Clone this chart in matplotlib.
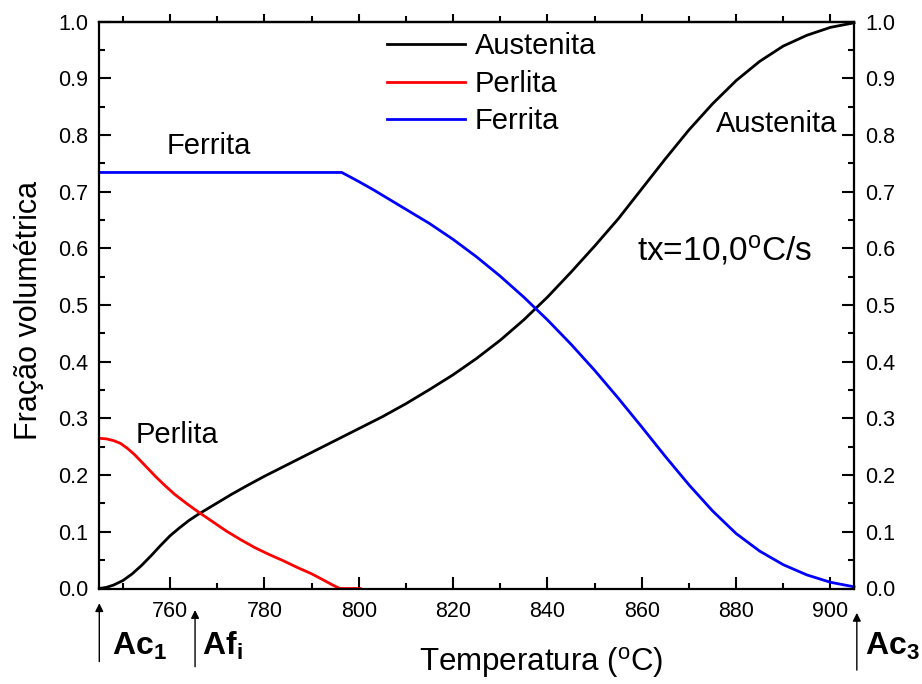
import matplotlib
matplotlib.use("Agg")
import matplotlib.pyplot as plt
import matplotlib.transforms as mtransforms
from matplotlib.ticker import MultipleLocator, FormatStrFormatter

plt.rcParams['font.family'] = ['Liberation Sans', 'DejaVu Sans']
plt.rcParams['mathtext.fontset'] = 'custom'
plt.rcParams['mathtext.rm'] = 'Liberation Sans'
plt.rcParams['mathtext.it'] = 'Liberation Sans:italic'
plt.rcParams['mathtext.bf'] = 'Liberation Sans:bold'

# Austenite volume fraction vs temperature (°C)
temp_aus = [745, 746.5, 748, 750, 752, 754, 756, 758, 760, 762, 764, 766, 768,
            770, 773, 776, 780, 785, 790, 795, 800, 805, 810, 815, 820, 825,
            830, 835, 840, 845, 850, 855, 860, 865, 870, 875, 880, 885, 890,
            895, 900, 905]
frac_aus = [0.0, 0.002, 0.006, 0.014, 0.026, 0.041, 0.058, 0.076, 0.093, 0.107,
            0.120, 0.131, 0.141, 0.151, 0.166, 0.180, 0.198, 0.219, 0.240, 0.261,
            0.282, 0.303, 0.326, 0.351, 0.377, 0.406, 0.438, 0.474, 0.514, 0.558,
            0.604, 0.652, 0.705, 0.758, 0.809, 0.855, 0.896, 0.930, 0.957, 0.976,
            0.990, 0.998]

# Pearlite volume fraction
temp_per = [745, 746.5, 748, 749.5, 751, 752.5, 754, 755.5, 757, 759, 761,
            763.5, 766, 769, 772, 775, 778, 781, 784, 787, 790, 792.5, 794.5,
            796, 800.3]
frac_per = [0.265, 0.264, 0.261, 0.256, 0.247, 0.236, 0.223, 0.210, 0.197,
            0.181, 0.166, 0.150, 0.135, 0.118, 0.101, 0.086, 0.072, 0.060,
            0.049, 0.037, 0.026, 0.015, 0.006, 0.0, 0.0]

# Ferrite volume fraction
temp_fer = [745, 796.4, 798, 800, 803, 806, 810, 815, 820, 825, 830, 835, 840,
            845, 850, 855, 860, 865, 870, 875, 880, 885, 890, 895, 900, 905]
frac_fer = [0.734, 0.734, 0.727, 0.718, 0.704, 0.689, 0.669, 0.644, 0.616,
            0.585, 0.551, 0.514, 0.474, 0.431, 0.385, 0.336, 0.285, 0.233,
            0.183, 0.137, 0.097, 0.066, 0.042, 0.024, 0.011, 0.003]

# Critical temperatures marked under the axis
crit_temps = [745, 765.3, 905.6]
crit_labels = [r'$\mathbf{Ac}_{\mathbf{1}}$', r'$\mathbf{Af}_{\mathbf{i}}$',
               r'$\mathbf{Ac}_{\mathbf{3}}$']

fig = plt.figure(figsize=(9.22, 6.84), dpi=100)
ax = fig.add_axes([99.3 / 922, 1 - 588.5 / 684, 754.7 / 922, 566.8 / 684])

ax.plot(temp_aus, frac_aus, color='black', lw=2.0, label='Austenita',
        clip_on=False, solid_joinstyle='round')
ax.plot(temp_per, frac_per, color='#ff0000', lw=2.0, label='Perlita',
        clip_on=False, solid_joinstyle='round')
ax.plot(temp_fer, frac_fer, color='#0000ff', lw=2.0, label='Ferrita',
        clip_on=False, solid_joinstyle='round')

ax.set_xlim(745, 905)
ax.set_ylim(0, 1.0)
ax.xaxis.set_major_locator(MultipleLocator(20))
ax.xaxis.set_minor_locator(MultipleLocator(10))
ax.yaxis.set_major_locator(MultipleLocator(0.1))
ax.yaxis.set_minor_locator(MultipleLocator(0.05))
ax.yaxis.set_major_formatter(FormatStrFormatter('%.1f'))

for sp in ax.spines.values():
    sp.set_linewidth(1.6)

ax.tick_params(which='both', direction='in', top=False, right=True,
               labelright=True, width=1.5, labelsize=15.5)
ax.tick_params(which='major', length=8.5)
ax.tick_params(which='minor', length=4.5)
ax.tick_params(axis='x', pad=9)
ax.tick_params(axis='y', pad=8)

# top axis: outward ticks, no labels
top = ax.secondary_xaxis('top')
top.xaxis.set_major_locator(MultipleLocator(20))
top.xaxis.set_minor_locator(MultipleLocator(10))
top.tick_params(which='both', direction='out', labeltop=False, width=1.5)
top.tick_params(which='major', length=6)
top.tick_params(which='minor', length=4)
top.spines['top'].set_linewidth(1.6)

ax.set_xlabel(r'Temperatura ($^{\mathrm{o}}$C)', fontsize=22.5)
ax.xaxis.set_label_coords(0.585, -0.100)
ax.set_ylabel('Fração volumétrica', fontsize=22)
ax.yaxis.set_label_coords(-0.073, 0.49)

ax.legend(loc='upper left', bbox_to_anchor=(0.381, 0.981), frameon=False,
          fontsize=21, handlelength=2.67, handletextpad=0.35,
          labelspacing=0.32, borderpad=0, borderaxespad=0)

ax.text(875.8, 0.806, 'Austenita', fontsize=21, va='baseline', ha='left')
ax.text(859.0, 0.580, r'tx=10,0$^{\mathrm{o}}$C/s', fontsize=24,
        va='baseline', ha='left')
ax.text(752.6, 0.256, 'Perlita', fontsize=21, va='baseline', ha='left')
ax.text(759.3, 0.766, 'Ferrita', fontsize=21, va='baseline', ha='left')

trans = mtransforms.blended_transform_factory(ax.transData, ax.transAxes)
arrow_spans = [(-0.129, -0.026), (-0.138, -0.038), (-0.144, -0.043)]
text_x = [747.6, 766.7, 907.4]
for t, (y0, y1), lab, tx in zip(crit_temps, arrow_spans, crit_labels, text_x):
    ax.annotate('', xy=(t, y1), xytext=(t, y0), xycoords=trans, textcoords=trans,
                arrowprops=dict(arrowstyle='-|>', color='black', lw=1.0,
                                mutation_scale=12, shrinkA=0, shrinkB=0),
                annotation_clip=False)
    ax.text(tx, -0.117, lab, transform=trans, fontsize=23, va='baseline',
            ha='left', clip_on=False)

fig.savefig('out.png', dpi=100)
